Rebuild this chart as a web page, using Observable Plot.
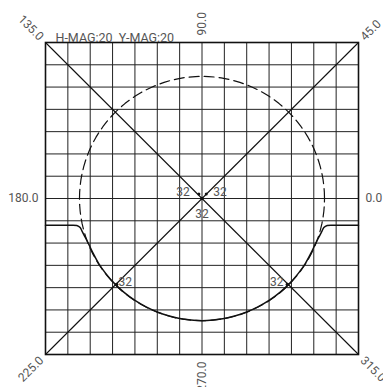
<!DOCTYPE html>
<html><head><meta charset="utf-8">
<script src="https://cdn.jsdelivr.net/npm/d3@7"></script>
<script src="https://cdn.jsdelivr.net/npm/@observablehq/plot@0.6"></script>
<style>body{margin:0;background:#fff} svg{font-family:Roboto,sans-serif}</style>
</head><body><div id="chart"></div>
<script>
// grid lines (cells)
const gridTicks = [-7,-6,-5,-4,-3,-2,-1,0,1,2,3,4,5,6,7];
// measured solid curve
const curveX = [-7,-6.0,-5.6,-5.45,-5.35,-5.22,-5.09,-4.85,-4.62,-4.3,-3.9,-3.5,-3.0,-2.5,-2.0,-1.5,-1.0,-0.5,0,0.5,1.0,1.5,2.0,2.5,3.0,3.5,3.9,4.3,4.62,4.85,5.09,5.22,5.35,5.45,5.6,6.0,7];
const curveY = [-1.2,-1.2,-1.21,-1.3,-1.5,-1.75,-2.0,-2.5,-2.92,-3.37,-3.83,-4.2,-4.57,-4.86,-5.09,-5.26,-5.38,-5.45,-5.48,-5.45,-5.38,-5.26,-5.09,-4.86,-4.57,-4.2,-3.83,-3.37,-2.92,-2.5,-2.0,-1.75,-1.5,-1.3,-1.21,-1.2,-1.2];
// reference circle radius
const circleRadius = 5.48;
// angle labels around frame
const angles = [0,45,90,135,180,225,270,315];
const angleLabels = ["0.0","45.0","90.0","135.0","180.0","225.0","270.0","315.0"];
const magText = "H-MAG:20\u00a0\u00a0Y-MAG:20";
// marked points
const pointX = [0,-3.82,3.82];
const pointY = [0,-3.86,-3.86];
const pointLabel = "32";
const smallMarkX = [-0.14,0.19];
const smallMarkY = [0.2,0.2];

const curve = curveX.map((x,i)=>({x, y: curveY[i]}));
const circle = d3.range(0, 361, 3).map(a => ({x: circleRadius*Math.cos(a*Math.PI/180), y: circleRadius*Math.sin(a*Math.PI/180)}));
const lo = gridTicks[0], hi = gridTicks[gridTicks.length-1];
const diagonals = [{x1:lo,y1:lo,x2:hi,y2:hi},{x1:lo,y1:hi,x2:hi,y2:lo}];
const points = pointX.map((x,i)=>({x, y: pointY[i]}));
const smallMarks = smallMarkX.map((x,i)=>({x, y: smallMarkY[i]}));

const txt = {fill:"#555", fontSize:12};
const angleMarks = angles.map((a,i)=>{
  const c = Math.round(Math.cos(a*Math.PI/180)), s = Math.round(Math.sin(a*Math.PI/180));
  const left = a > 90 && a <= 270;
  let rot = left ? 180 - a : (a > 270 ? 360 - a : -a);
  const diag = c !== 0 && s !== 0;
  const d = diag ? 4 : 7;
  return Plot.text([angleLabels[i]], {
    x: hi*c, y: hi*s, text: d=>d, rotate: rot,
    textAnchor: left ? "end" : "start",
    dx: d*c, dy: -d*s, ...txt
  });
});

const chart = Plot.plot({
  width: 383, height: 387,
  marginLeft: 45, marginRight: 25, marginTop: 42, marginBottom: 33,
  x: {domain:[lo,hi], axis:null},
  y: {domain:[lo,hi], axis:null},
  marks: [
    Plot.ruleX(gridTicks, {stroke:"#222", strokeWidth:1}),
    Plot.ruleY(gridTicks, {stroke:"#222", strokeWidth:1}),
    Plot.link(diagonals, {x1:"x1", y1:"y1", x2:"x2", y2:"y2", stroke:"#111", strokeWidth:1.1}),
    Plot.line(circle, {x:"x", y:"y", stroke:"#111", strokeWidth:1.2, strokeDasharray:"10,5"}),
    Plot.line(curve, {x:"x", y:"y", stroke:"#111", strokeWidth:1.5, curve:"catmull-rom"}),
    Plot.frame({stroke:"#111", strokeWidth:1.6}),
    Plot.dot(points, {x:"x", y:"y", r:1.8, fill:"#111"}),
    Plot.dot(smallMarks, {x:"x", y:"y", r:1.5, fill:"#111"}),
    Plot.text([points[0]], {x:"x", y:"y", text:()=>pointLabel, dx:-19, dy:-6, ...txt}),
    Plot.text([points[0]], {x:"x", y:"y", text:()=>pointLabel, dx:18, dy:-6, ...txt}),
    Plot.text([points[0]], {x:"x", y:"y", text:()=>pointLabel, dx:0, dy:16, ...txt}),
    Plot.text([points[1]], {x:"x", y:"y", text:()=>pointLabel, textAnchor:"start", dx:2, dy:-2, ...txt}),
    Plot.text([points[2]], {x:"x", y:"y", text:()=>pointLabel, textAnchor:"end", dx:-4, dy:-2, ...txt}),
    Plot.text([magText], {frameAnchor:"top-left", text:d=>d, textAnchor:"start", dx:10, dy:-9, fill:"#555", fontSize:12.5}),
    ...angleMarks
  ]
});
document.getElementById("chart").append(chart);
</script></body></html>
